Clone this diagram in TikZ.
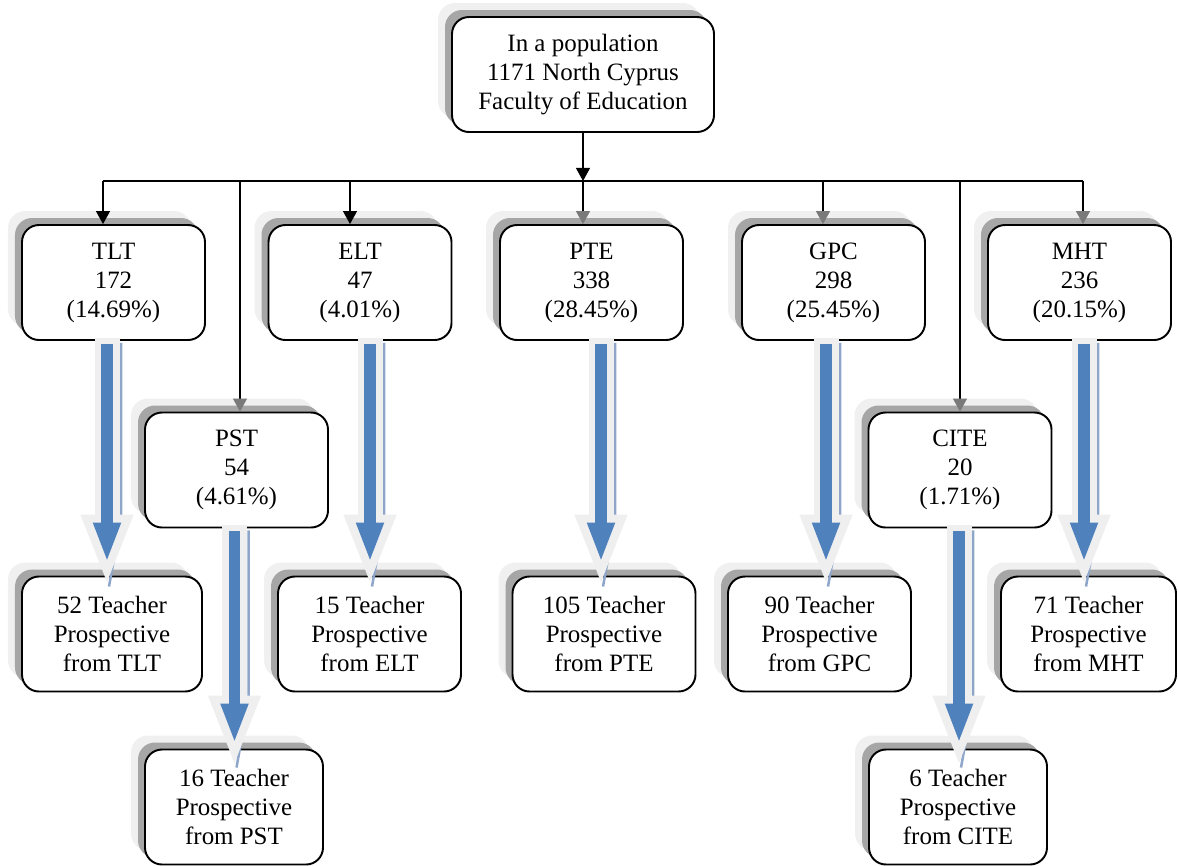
\documentclass[tikz,border=0pt]{standalone}
\usepackage{fontspec}
\setmainfont{Liberation Serif}
\usetikzlibrary{arrows.meta,calc,shadows}
\definecolor{arrowblue}{HTML}{4F81BD}
\definecolor{halogrey}{HTML}{EFEFEF}
\definecolor{arrowshade}{HTML}{8EA6CA}
\definecolor{shadedark}{HTML}{A6A6A6}
\definecolor{shadelight}{HTML}{F0F0F0}
\definecolor{tipgrey}{HTML}{7A7A7A}
\tikzset{
  unit/.style={draw, line width=1.1pt, rounded corners=3.4mm, fill=white, align=center,
    minimum width=36.6mm, minimum height=23mm, inner sep=1pt,
    font=\fontsize{14.2}{16.5}\selectfont,
    general shadow={fill=shadelight, shadow xshift=-2.8mm, shadow yshift=2.8mm},
    general shadow={fill=shadedark, shadow xshift=-1.4mm, shadow yshift=1.4mm}},
  link/.style={line width=0.7pt, -{Triangle[width=2.8mm,length=2.6mm]}},
  linkgrey/.style={line width=0.7pt, -{Triangle[width=2.8mm,length=2.6mm,color=tipgrey]}},
  halo/.style={draw=halogrey, line width=5mm, -{Triangle[width=9.4mm,length=14.4mm]}},
  bigarrow/.style={draw=arrowblue, line width=2.3mm, -{Triangle[width=5mm,length=8mm]}},
  shadeline/.style={draw=arrowshade, line width=0.5mm}
}
\begin{document}
\begin{tikzpicture}[x=0.2mm,y=-0.2mm]
  \useasboundingbox (0,0) rectangle (1178,865);
  \node [unit, minimum width=52.4mm] (top) at (583,74.5) {In a population\\1171 North Cyprus\\Faculty of Education};
  \node [unit] (tlt) at (113.5,282.5) {TLT\\172\\(14.69\%)};
  \node [unit] (elt) at (360,282.5) {ELT\\47\\(4.01\%)};
  \node [unit] (pte) at (591.5,282.5) {PTE\\338\\(28.45\%)};
  \node [unit] (gpc) at (833.5,282.5) {GPC\\298\\(25.45\%)};
  \node [unit] (mht) at (1079.5,282.5) {MHT\\236\\(20.15\%)};
  \node [unit] (pst) at (236.5,470) {PST\\54\\(4.61\%)};
  \node [unit] (cite) at (960,470) {CITE\\20\\(1.71\%)};
  \node [unit, minimum width=36mm] (n52) at (112,634) {52 Teacher\\Prospective\\from TLT};
  \node [unit] (n15) at (369.5,634) {15 Teacher\\Prospective\\from ELT};
  \node [unit] (n105) at (604,634) {105 Teacher\\Prospective\\from PTE};
  \node [unit] (n90) at (819.5,634) {90 Teacher\\Prospective\\from GPC};
  \node [unit, minimum width=35mm] (n71) at (1088.5,634) {71 Teacher\\Prospective\\from MHT};
  \node [unit, minimum width=35.6mm] (n16) at (234,807) {16 Teacher\\Prospective\\from PST};
  \node [unit, minimum width=35.6mm] (n6) at (958,807) {6 Teacher\\Prospective\\from CITE};
  \coordinate (hub) at ($(top.south)+(0,48)$);
  \coordinate (dl) at ($(tlt.north)+(-10.5,0)$);
  \coordinate (dr) at ($(mht.north)+(3.5,0)$);
  \draw [link] (top.south) -- (hub);
  \draw [line width=0.7pt] (dl |- hub) -- (dr |- hub);
  \foreach \dept/\dx/\tip in {tlt/-10.5/link, pst/3.5/linkgrey, elt/-10/link, pte/-8.5/linkgrey,
                              gpc/-10.5/linkgrey, cite/0/linkgrey, mht/3.5/linkgrey} {
    \coordinate (d) at ($(\dept.north)+(\dx,0)$);
    \draw [\tip] (d |- hub) -- (d);
  }
  \foreach \up/\down/\dx/\gap in {tlt/n52/-6.5/13, pst/n16/-2/5, elt/n15/10/13, pte/n105/9.5/13,
                                  gpc/n90/-7.5/13, cite/n6/-1/5, mht/n71/4.5/13} {
    \coordinate (s) at ($(\up.south)+(\dx,3)$);
    \coordinate (t) at ($(s |- \down.north)+(0,-\gap)$);
    \draw [shadeline] ($(s)+(14,-1)$) -- ($(t)+(14,-43)$) -- ($(t)+(2,24)$);
    \draw [halo] ($(s)+(0,-6)$) -- ($(t)+(0,24)$);
    \draw [bigarrow] (s) -- (t);
  }
\end{tikzpicture}
\end{document}
